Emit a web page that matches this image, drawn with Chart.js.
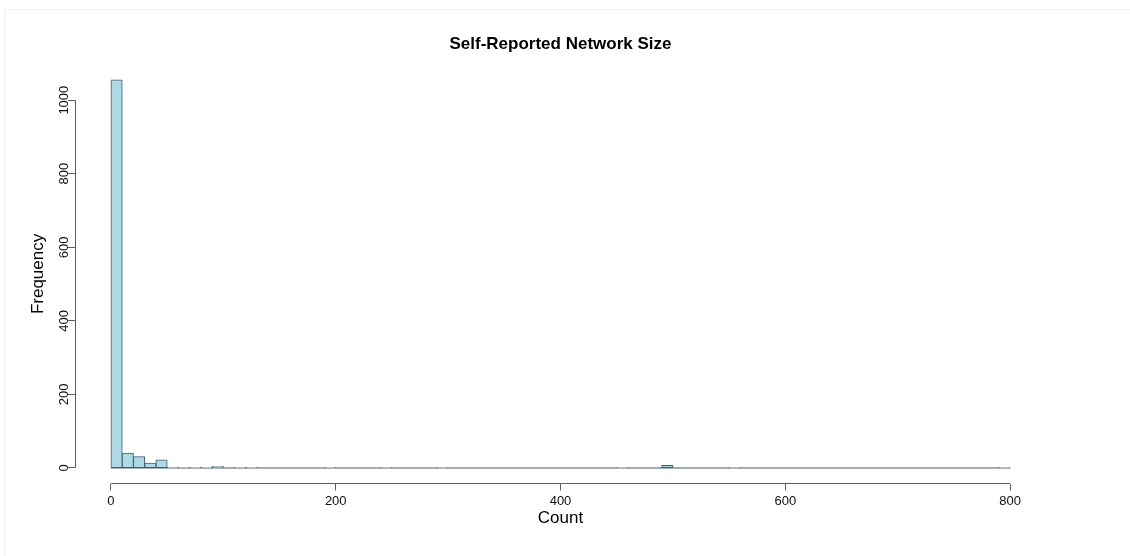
<!DOCTYPE html>
<html>
<head>
<meta charset="utf-8">
<title>Self-Reported Network Size</title>
<script src="https://cdn.jsdelivr.net/npm/chart.js@4"></script>
<style>
  html, body { margin: 0; padding: 0; background: #fff; }
  .frame { position: absolute; left: 4px; top: 9px; width: 1200px; height: 600px; border: 1px solid #eef2f4; }
  #hist { position: absolute; left: 0; top: 0; }
</style>
</head>
<body>
<div class="frame"></div>
<canvas id="hist" width="1130" height="556"></canvas>
<script>
const $ = (id) => document.getElementById(id);

// histogram bins (width 10), only the non-empty ones
const binMid = [5, 15, 25, 35, 45, 55, 65, 75, 85, 95, 115, 125, 195, 245, 295, 455, 495, 555, 795];
const binCount = [1055, 40, 31, 13, 22, 2, 1, 1, 1, 4, 1, 1, 1, 1, 1, 1, 7, 1, 1];
// full range of the breaks, zero bins show as the baseline
const binRange = [0, 800];

const xTicks = [0, 200, 400, 600, 800];
const yTicks = [0, 200, 400, 600, 800, 1000];
const xLimits = [-32, 832];
const yLimits = [-42.2, 1097.2];

const FONT = "'Liberation Sans', Arial, sans-serif";
const AXIS = "#5f5f5f";
const BORDER = "#4a5c63";

// R-style axes: lines only span the first..last tick
const rAxes = {
  id: "rAxes",
  beforeDatasetsDraw(chart) {
    const { ctx, chartArea, scales: { x, y } } = chart;
    ctx.save();
    ctx.lineWidth = 1;
    ctx.strokeStyle = AXIS;
    ctx.beginPath();
    const by = Math.round(chartArea.bottom) - 0.5;
    ctx.moveTo(x.getPixelForValue(xTicks[0]), by);
    ctx.lineTo(x.getPixelForValue(xTicks[xTicks.length - 1]), by);
    const lx = Math.round(chartArea.left) + 0.5;
    ctx.moveTo(lx, y.getPixelForValue(yTicks[0]));
    ctx.lineTo(lx, y.getPixelForValue(yTicks[yTicks.length - 1]));
    ctx.stroke();

    ctx.strokeStyle = BORDER;
    ctx.beginPath();
    const y0 = y.getPixelForValue(0);
    ctx.moveTo(x.getPixelForValue(binRange[0]), y0);
    ctx.lineTo(x.getPixelForValue(binRange[1]), y0);
    ctx.stroke();
    ctx.restore();
  },
};

const pinTicks = (list) => (scale) => {
  scale.ticks = list.map((v) => ({ value: v }));
};

new Chart($("hist"), {
  type: "bar",
  data: {
    datasets: [{
      data: binMid.map((m, i) => ({ x: m, y: binCount[i] })),
      backgroundColor: "#add8e6",
      borderColor: BORDER,
      borderWidth: 1,
      borderSkipped: false,
      inflateAmount: 0.4,
      barPercentage: 1,
      categoryPercentage: 1,
    }],
  },
  options: {
    responsive: false,
    animation: false,
    layout: { padding: { left: 0, right: 84, top: 0, bottom: 0 } },
    plugins: {
      legend: { display: false },
      tooltip: { enabled: false },
      title: {
        display: true,
        fullSize: false,
        text: "Self-Reported Network Size",
        color: "#000",
        font: { family: FONT, size: 17, weight: "bold" },
        padding: { top: 34, bottom: 10 },
      },
    },
    scales: {
      x: {
        type: "linear",
        offset: false,
        min: xLimits[0],
        max: xLimits[1],
        afterBuildTicks: pinTicks(xTicks),
        afterFit: (s) => { s.height = 72.5; },
        border: { display: false },
        grid: { drawOnChartArea: false, drawTicks: true, tickLength: 7, color: AXIS, offset: false },
        ticks: { color: "#111", font: { family: FONT, size: 13 }, padding: 3, maxRotation: 0, callback: (v) => String(v) },
        title: { display: true, text: "Count", color: "#000", font: { family: FONT, size: 17 }, padding: { top: 0, bottom: 27 } },
      },
      y: {
        type: "linear",
        min: yLimits[0],
        max: yLimits[1],
        afterBuildTicks: pinTicks(yTicks),
        afterFit: (s) => { s.width = 75; },
        border: { display: false },
        grid: { drawOnChartArea: false, drawTicks: true, tickLength: 7, color: AXIS },
        ticks: { color: "#111", font: { family: FONT, size: 13 }, minRotation: 90, maxRotation: 90, crossAlign: "center", padding: -11, callback: (v) => String(v) },
        title: { display: true, text: "Frequency", color: "#000", font: { family: FONT, size: 17 }, padding: { top: 28, bottom: 0 } },
      },
    },
  },
  plugins: [rAxes],
});
</script>
</body>
</html>
